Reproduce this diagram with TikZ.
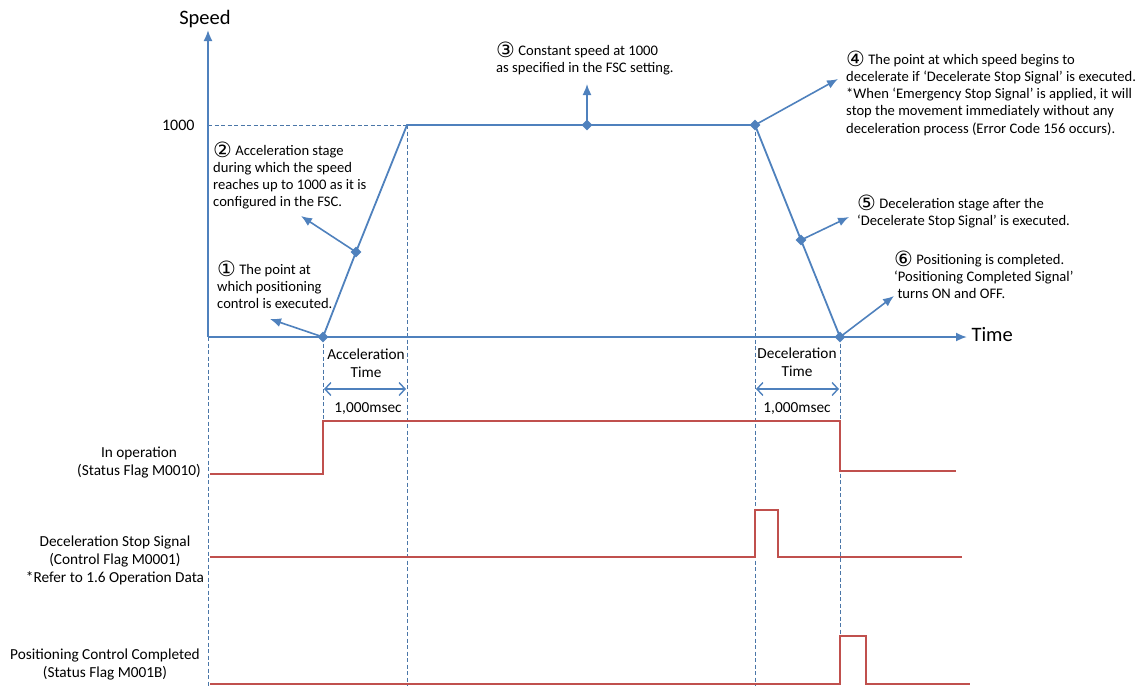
\documentclass[tikz,border=0pt]{standalone}
\usepackage{fontspec}
\setmainfont{Carlito}
\newfontfamily\numfont{DejaVu Sans}
\usetikzlibrary{arrows.meta,shapes.geometric}
\definecolor{axisblue}{HTML}{4F81BD}
\definecolor{guideblue}{HTML}{4A76A8}
\definecolor{sigred}{HTML}{C0504D}
\newcommand{\circnum}[1]{\smash{\raisebox{-2pt}{\numfont\fontsize{21}{17}\selectfont #1}}}

\begin{document}
\begin{tikzpicture}[x=1pt,y=-1pt,
		font=\fontsize{15.3}{18}\selectfont,
		axis/.style={draw=axisblue,line width=1.8pt},
		guide/.style={draw=guideblue,line width=1pt,dash pattern=on 4pt off 2.5pt},
		signal/.style={draw=sigred,line width=1.8pt},
		dot/.style={diamond,fill=axisblue,inner sep=0pt,minimum size=11pt},
		callout/.style={->,draw=axisblue,fill=axisblue,line width=1.6pt},
		note/.style={align=left,inner sep=0pt,anchor=north west,font=\fontsize{14.6}{17.2}\selectfont},
		flag/.style={align=center,inner sep=0pt,anchor=north},
		span/.style={{Straight Barb[length=6pt,width=13pt]}-{Straight Barb[length=6pt,width=13pt]},draw=axisblue,line width=1.4pt},
		>={Latex[length=11pt,width=9pt]}]
	
	\useasboundingbox (0,0) rectangle (1136,686);
	
	% Guide lines
	\coordinate (origin) at (208,337);
	\coordinate (reach) at (407,125);
	\coordinate (topleft) at (208,125);
	\draw[guide] (topleft) -- (reach);
	\draw[guide] (reach) -- (407,686);
	\draw[guide] (755,125) -- (755,686);
	\draw[guide] (origin) -- (208,686);
	\draw[guide] (323,337) -- (323,421);
	\draw[guide] (840,337) -- (840,636);
	
	% Axes
	\coordinate (speedtip) at (208,30);
	\coordinate (timetip) at (967,337);
	\draw[axis,->] (origin) -- (speedtip);
	\draw[axis,->] (origin) -- (timetip);
	\node (speed) at (205,19) {\fontsize{20.5}{22}\selectfont Speed};
	\node[anchor=west] (time) at (968,335) {\fontsize{20.5}{22}\selectfont Time};
	\node[anchor=east] (level) at (198,125) {\fontsize{16}{18}\selectfont 1000};
	
	% Speed profile
	\node[dot] (start) at (323,337) {};
	\node[dot] (accel) at (356,252) {};
	\node[dot] (cruise) at (587,125) {};
	\node[dot] (brake) at (755,125) {};
	\node[dot] (decel) at (801,240) {};
	\node[dot] (stop) at (840,337) {};
	\draw[axis] (start.center) -- (accel.center) -- (reach) -- (cruise.center)
		-- (brake.center) -- (decel.center) -- (stop.center);
	
	% Callouts
	\coordinate (c1) at (270,319);
	\coordinate (c2) at (301,216);
	\coordinate (c3) at (587,84);
	\coordinate (c4) at (838,79);
	\coordinate (c5) at (849,217);
	\coordinate (c6) at (894,296);
	\draw[callout] (start.center) -- (c1);
	\draw[callout] (accel.center) -- (c2);
	\draw[callout] (cruise.center) -- (c3);
	\draw[callout] (brake.center) -- (c4);
	\draw[callout] (decel.center) -- (c5);
	\draw[callout] (stop.center) -- (c6);
	
	\node[note] (n1) at (217,264) {\circnum{①} The point at\\which positioning\\control is executed.};
	\node[note] (n2) at (213,145) {\circnum{②} Acceleration stage\\during which the speed\\reaches up to 1000 as it is\\configured in the FSC.};
	\node[note] (n3) at (496,45) {\circnum{③} Constant speed at 1000\\as specified in the FSC setting.};
	\node[note] (n4) at (846,54) {\circnum{④} The point at which speed begins to\\decelerate if ‘Decelerate Stop Signal’ is executed.\\*When ‘Emergency Stop Signal’ is applied, it will\\stop the movement immediately without any\\deceleration process (Error Code 156 occurs).};
	\node[note] (n5) at (857,198) {\circnum{⑤} Deceleration stage after the\\‘Decelerate Stop Signal’ is executed.};
	\node[note] (n6) at (894,254) {\circnum{⑥} Positioning is completed.\\‘Positioning Completed Signal’\\\ turns ON and OFF.};
	
	% Time spans
	\node[align=center] (acctime) at (366,363) {Acceleration\\Time};
	\draw[span] (324,389) -- (406,389);
	\node (accms) at (368,409) {1,000msec};
	\node[align=center] (dectime) at (797,362) {Deceleration\\Time};
	\draw[span] (756,389) -- (839,389);
	\node (decms) at (797,409) {1,000msec};
	
	% Signals
	\draw[signal] (210,474) -- (323,474) -- (323,421) -- (840,421) -- (840,471) -- (956,471);
	\draw[signal] (210,557) -- (755,557) -- (755,510) -- (778,510) -- (778,557) -- (962,557);
	\draw[signal] (210,684) -- (840,684) -- (840,636) -- (866,636) -- (866,684) -- (970,684);
	
	\node[flag] (opflag) at (139,447) {In operation\\(Status Flag M0010)};
	\node[flag] (decflag) at (115,536) {Deceleration Stop Signal\\(Control Flag M0001)\\*Refer to 1.6 Operation Data};
	\node[flag] (posflag) at (105,649) {Positioning Control Completed\\(Status Flag M001B)};
\end{tikzpicture}
\end{document}
